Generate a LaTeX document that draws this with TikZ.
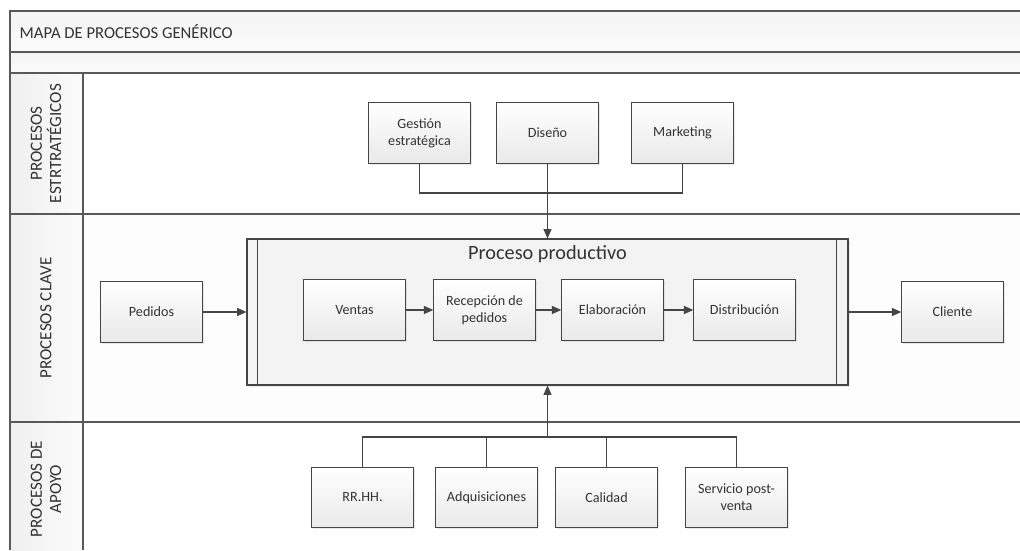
\documentclass[tikz,border=0pt]{standalone}
\usepackage{fontspec}
\setmainfont{Carlito}
\usetikzlibrary{arrows.meta,shadows}
\definecolor{linegray}{HTML}{595959}
\definecolor{boxline}{HTML}{454545}
\definecolor{txt}{HTML}{333333}
\definecolor{bandtop}{HTML}{F4F4F4}
\definecolor{bandbot}{HTML}{FBFBFB}
\definecolor{boxbot}{HTML}{E9E9E9}
\definecolor{prodfill}{HTML}{F3F3F3}
\tikzset{
  frameline/.style={draw=linegray, line width=0.9pt},
  procbox/.style={draw=boxline, line width=0.8pt, top color=white, bottom color=boxbot,
    minimum width=76pt, minimum height=45.5pt, inner sep=1pt, align=center,
    font=\fontsize{10.6}{12.5}\selectfont, text=txt,
    drop shadow={opacity=0.18, shadow xshift=1.2pt, shadow yshift=-1.2pt}},
  lanelabel/.style={rotate=90, align=center, font=\fontsize{12.8}{14.5}\selectfont, text=txt},
  conn/.style={draw=boxline, line width=0.8pt},
  flow/.style={conn, -{Triangle[length=7pt,width=6pt]}}
}
\begin{document}
\begin{tikzpicture}[x=0.75pt,y=-0.75pt]
\useasboundingbox (0,0) rectangle (1020,550);

% bands and lane header column
\fill[top color=bandtop, bottom color=bandbot] (10,11) rectangle (1020,52);
\fill[top color=bandtop, bottom color=bandbot] (10,52) rectangle (1020,73);
\fill[left color=boxbot!70, right color=bandbot] (10,73) rectangle (83,550);
\fill[white] (83,73) rectangle (1020,214);
\fill[white!60!bandbot] (83,214) rectangle (1020,422);
\fill[white] (83,422) rectangle (1020,550);

\draw[frameline] (10,550) -- (10,11) -- (1020,11);
\draw[frameline] (10,52) -- (1020,52);
\draw[frameline] (10,73) -- (1020,73);
\draw[frameline] (10,214) -- (1020,214);
\draw[frameline] (10,422) -- (1020,422);
\draw[frameline] (83,73) -- (83,550);

\node[anchor=west, font=\fontsize{12.5}{14}\selectfont, text=txt] (title) at (15,32) {MAPA DE PROCESOS GENÉRICO};

\node[lanelabel] (lane1) at (46,143.5) {PROCESOS\\ESTRTRATÉGICOS};
\node[lanelabel] (lane2) at (46,318) {PROCESOS CLAVE};
\node[lanelabel] (lane3) at (46,489) {PROCESOS DE\\APOYO};

% strategic processes
\node[procbox] (gest) at (419.5,133) {Gestión\\estratégica};
\node[procbox] (dis) at (547.5,133) {Diseño};
\node[procbox] (mark) at (682.5,133) {Marketing};

% production process container
\node[draw=boxline, line width=0.8pt, fill=prodfill, minimum width=450.75pt, minimum height=109.5pt,
      inner sep=0pt, drop shadow={opacity=0.15, shadow xshift=1.2pt, shadow yshift=-1.2pt}] (prod) at (547.5,312) {};
\draw[conn] (prod.north west) ++(11,0) -- ++(0,146);
\draw[conn] (prod.north east) ++(-12,0) -- ++(0,146);
\node[font=\fontsize{15.2}{17}\selectfont, text=txt] (prodtitle) at (547.5,254) {Proceso productivo};

\node[procbox] (ventas) at (354.5,310) {Ventas};
\node[procbox] (recep) at (484.5,310) {Recepción de\\pedidos};
\node[procbox] (elab) at (612.5,310) {Elaboración};
\node[procbox] (distr) at (744.5,310) {Distribución};

\node[procbox] (ped) at (151.5,312) {Pedidos};
\node[procbox] (cli) at (952.5,312) {Cliente};

% support processes
\node[procbox] (rrhh) at (362.5,497.5) {RR.HH.};
\node[procbox] (adq) at (486.5,497.5) {Adquisiciones};
\node[procbox] (cal) at (606.5,497.5) {Calidad};
\node[procbox] (serv) at (736.5,497.5) {Servicio post-\\venta};

% connectors
\coordinate (topbus) at (547.5,193);
\draw[conn] (gest.south) |- (topbus) -| (mark.south);
\draw[flow] (dis.south) -- (prod.north);

\coordinate (botbus) at (547.5,437);
\draw[conn] (rrhh.north) |- (botbus) -| (serv.north);
\draw[conn] (adq.north) -- (adq.north |- botbus);
\draw[conn] (cal.north) -- (cal.north |- botbus);
\draw[flow] (botbus) -- (prod.south);

\draw[flow] (ped.east) -- (prod.west |- ped.east);
\draw[flow] (prod.east |- cli.west) -- (cli.west);
\draw[flow] (ventas.east) -- (recep.west);
\draw[flow] (recep.east) -- (elab.west);
\draw[flow] (elab.east) -- (distr.west);
\end{tikzpicture}
\end{document}
